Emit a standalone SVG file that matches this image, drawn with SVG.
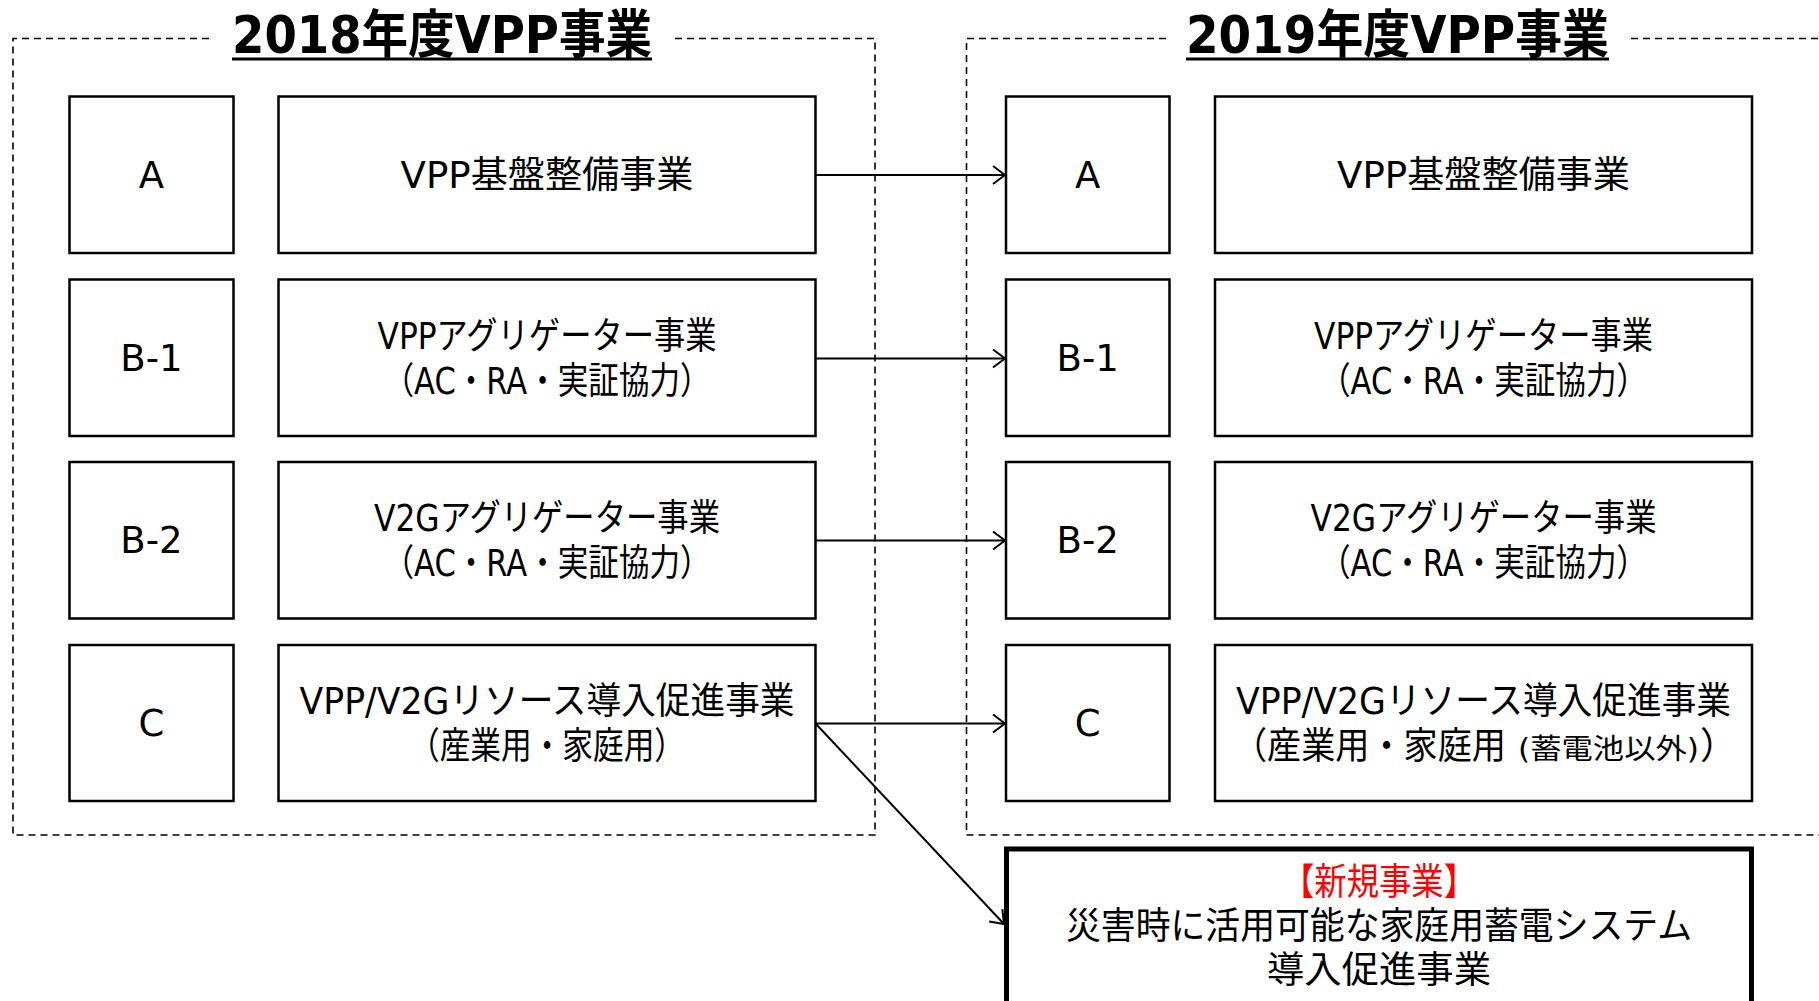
<svg xmlns="http://www.w3.org/2000/svg" width="1819" height="1001" viewBox="0 0 1819 1001">
<style>
text{font-family:"DejaVu Sans","Noto Sans CJK JP",sans-serif;fill:#000;text-anchor:middle}
.t{font-size:37px}
.s{font-size:28px}
.st{text-anchor:start}
.h{font-size:52px;font-weight:bold}
.box{fill:#fff;stroke:#000;stroke-width:2.5}
.dash{fill:none;stroke:#000;stroke-width:1.6;stroke-dasharray:7 5}
.con{fill:none;stroke:#000;stroke-width:2;marker-end:url(#arr)}
</style>
<defs>
<marker id="arr" viewBox="0 0 14 20" refX="13" refY="10" markerWidth="14" markerHeight="20" markerUnits="userSpaceOnUse" orient="auto">
<path d="M1,1 L13,10 L1,19" fill="none" stroke="#000" stroke-width="2"/>
</marker>
</defs>
<rect width="1819" height="1001" fill="#fff"/>

<g id="group2018">
<path class="dash" d="M209,38.5 H13 V835 H875 V38.5 H675"/>
<text class="h" x="442" y="53" textLength="420" lengthAdjust="spacingAndGlyphs">2018年度VPP事業</text>
<line x1="232" y1="59" x2="652" y2="59" stroke="#000" stroke-width="3"/>
</g>
<g id="group2019">
<path class="dash" d="M1166,38.5 H966.5 V835 H1830 M1830,38.5 H1630"/>
<text class="h" x="1397.5" y="53" textLength="423" lengthAdjust="spacingAndGlyphs">2019年度VPP事業</text>
<line x1="1186" y1="59" x2="1609" y2="59" stroke="#000" stroke-width="3"/>
</g>

<g id="L-A"><rect class="box" x="69.5" y="96.5" width="164" height="156.5"/><text class="t" x="151.5" y="188">A</text></g>
<g id="L-A-desc"><rect class="box" x="278.5" y="96.5" width="537" height="156.5"/><text class="t" x="547" y="188" textLength="293" lengthAdjust="spacingAndGlyphs">VPP基盤整備事業</text></g>
<g id="L-B1"><rect class="box" x="69.5" y="279.5" width="164" height="156.5"/><text class="t" x="151.5" y="371">B-1</text></g>
<g id="L-B1-desc"><rect class="box" x="278.5" y="279.5" width="537" height="156.5"/><text class="t" x="547" y="349" textLength="339" lengthAdjust="spacingAndGlyphs">VPPアグリゲーター事業</text><text class="t" x="547" y="394" textLength="327" lengthAdjust="spacingAndGlyphs">（AC・RA・実証協力）</text></g>
<g id="L-B2"><rect class="box" x="69.5" y="462" width="164" height="156.5"/><text class="t" x="151.5" y="553">B-2</text></g>
<g id="L-B2-desc"><rect class="box" x="278.5" y="462" width="537" height="156.5"/><text class="t" x="547" y="531" textLength="346" lengthAdjust="spacingAndGlyphs">V2Gアグリゲーター事業</text><text class="t" x="547" y="576" textLength="327" lengthAdjust="spacingAndGlyphs">（AC・RA・実証協力）</text></g>
<g id="L-C"><rect class="box" x="69.5" y="645" width="164" height="156"/><text class="t" x="151.5" y="736">C</text></g>
<g id="L-C-desc"><rect class="box" x="278.5" y="645" width="537" height="156"/><text class="t" x="547" y="714" textLength="495" lengthAdjust="spacingAndGlyphs">VPP/V2Gリソース導入促進事業</text><text class="t" x="547" y="759" textLength="276" lengthAdjust="spacingAndGlyphs">（産業用・家庭用）</text></g>

<g id="R-A"><rect class="box" x="1006" y="96.5" width="163.5" height="156.5"/><text class="t" x="1087.7" y="188">A</text></g>
<g id="R-A-desc"><rect class="box" x="1215" y="96.5" width="537" height="156.5"/><text class="t" x="1483.5" y="188" textLength="293" lengthAdjust="spacingAndGlyphs">VPP基盤整備事業</text></g>
<g id="R-B1"><rect class="box" x="1006" y="279.5" width="163.5" height="156.5"/><text class="t" x="1087.7" y="371">B-1</text></g>
<g id="R-B1-desc"><rect class="box" x="1215" y="279.5" width="537" height="156.5"/><text class="t" x="1483.5" y="349" textLength="339" lengthAdjust="spacingAndGlyphs">VPPアグリゲーター事業</text><text class="t" x="1483.5" y="394" textLength="327" lengthAdjust="spacingAndGlyphs">（AC・RA・実証協力）</text></g>
<g id="R-B2"><rect class="box" x="1006" y="462" width="163.5" height="156.5"/><text class="t" x="1087.7" y="553">B-2</text></g>
<g id="R-B2-desc"><rect class="box" x="1215" y="462" width="537" height="156.5"/><text class="t" x="1483.5" y="531" textLength="346" lengthAdjust="spacingAndGlyphs">V2Gアグリゲーター事業</text><text class="t" x="1483.5" y="576" textLength="327" lengthAdjust="spacingAndGlyphs">（AC・RA・実証協力）</text></g>
<g id="R-C"><rect class="box" x="1006" y="645" width="163.5" height="156"/><text class="t" x="1087.7" y="736">C</text></g>
<g id="R-C-desc"><rect class="box" x="1215" y="645" width="537" height="156"/><text class="t" x="1483.5" y="714" textLength="495" lengthAdjust="spacingAndGlyphs">VPP/V2Gリソース導入促進事業</text>
<text class="t st" x="1233" y="759" textLength="273" lengthAdjust="spacingAndGlyphs">（産業用・家庭用</text>
<text class="s st" x="1518" y="759" textLength="181" lengthAdjust="spacingAndGlyphs">(蓄電池以外)</text>
<text class="t st" x="1700" y="759">）</text></g>

<g id="R-New"><rect x="1006.5" y="849" width="745" height="170" fill="#fff" stroke="#000" stroke-width="5"/>
<text class="t" x="1379" y="895" textLength="194" lengthAdjust="spacingAndGlyphs" style="fill:#ff0000">【新規事業】</text>
<text class="t" x="1379" y="939" textLength="626" lengthAdjust="spacingAndGlyphs">災害時に活用可能な家庭用蓄電システム</text>
<text class="t" x="1379" y="983" textLength="224" lengthAdjust="spacingAndGlyphs">導入促進事業</text></g>

<g id="connectors">
<line class="con" x1="815.5" y1="175" x2="1005" y2="175"/>
<line class="con" x1="815.5" y1="358.5" x2="1005" y2="358.5"/>
<line class="con" x1="815.5" y1="540.5" x2="1005" y2="540.5"/>
<line class="con" x1="815.5" y1="723.5" x2="1005" y2="723.5"/>
<line class="con" x1="815.5" y1="723.5" x2="1004" y2="924"/>
</g>
</svg>
